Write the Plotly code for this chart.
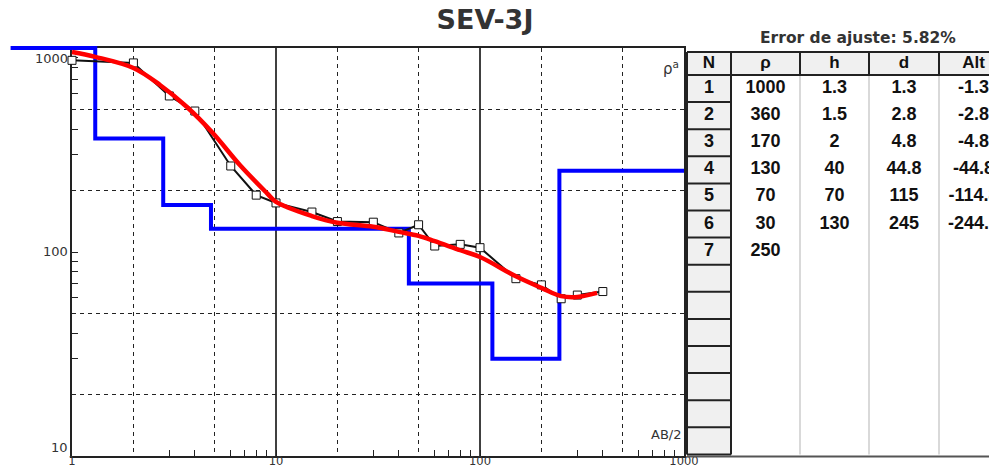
import plotly.graph_objects as go

# the page body keeps an 8px margin, so the figure is the window minus 16px
WIN_W, WIN_H, BODY = 997, 475, 8
W, H = WIN_W - 2 * BODY, WIN_H - 2 * BODY

# field data: AB/2 (m) vs apparent resistivity (ohm.m)
ab2_obs = [1, 2, 3, 4, 6, 8, 10, 15, 20, 30, 40, 50, 60, 80, 100, 150, 200, 250, 300, 400]
rho_obs = [870, 845, 582, 491, 264, 190, 174, 157, 141, 140, 124, 136, 107, 109, 105, 74, 69, 59, 61.5, 64]

# calculated curve of the fitted model
ab2_fit = [1, 1.3, 2, 2.7, 3.66, 4.9, 6.65, 9, 10, 15, 20, 30, 40, 50, 60, 80, 100, 150, 200, 250, 300, 375]
rho_fit = [956, 905, 798, 659, 514, 383, 267, 195, 176, 150, 139, 133, 125.5, 120, 113, 102, 94.5, 76, 66.7, 60.8, 60.2, 63]

# layered model (table)
layer_rho = [1000, 360, 170, 130, 70, 30, 250]
layer_h = [1.3, 1.5, 2, 40, 70, 130]
layer_d = [1.3, 2.8, 4.8, 44.8, 115, 245]
layer_alt = [-1.3, -2.8, -4.8, -44.8, -114.8, -244.8]
fit_error = 5.82
model_start, model_end = 0.5, 1000

headers = ["N", "ρ", "h", "d", "Alt"]
n_rows = 14

# tick values
decades_x = [1, 10, 100, 1000]
decades_y = [10, 100, 1000]
dashed = [2, 5, 20, 50, 200, 500]
small = [m * 10 ** e for e in range(0, 3) for m in (3, 4, 6, 7, 8, 9)]


# window pixels -> paper fractions
def xdom(a, b):
    return [(a - BODY) / W, (b - BODY) / W]


def ydom(top, bottom):
    return [(H - (bottom - BODY)) / H, (H - (top - BODY)) / H]


def px(x):
    return (x - BODY) / W


def py(y):
    return 1 - (y - BODY) / H


# pixel box of the log-log frame (window coords)
PX0, PX1, PY0, PY1 = 72, 684, 48, 456
XR, YR = [0, 3], [1, 3]
sx = (PX1 - PX0) / (XR[1] - XR[0])
sy = (PY1 - PY0) / (YR[1] - YR[0])

# a wider invisible subplot on the same scale, so the model line can leave the frame
OX0, OX1, OY0, OY1 = 8, 690, 40, 462
x2range = [XR[0] - (PX0 - OX0) / sx, XR[1] + (OX1 - PX1) / sx]
y2range = [YR[0] - (OY1 - PY1) / sy, YR[1] + (PY0 - OY0) / sy]

ink = "#222"
lblfont = dict(family="DejaVu Sans", size=13, color="#333")

fig = go.Figure()

fig.add_trace(go.Scatter(
    x=[model_start] + layer_d + [model_end], y=layer_rho + [layer_rho[-1]],
    xaxis="x2", yaxis="y2", mode="lines", line=dict(color="#0000ff", width=4, shape="hv"),
    hoverinfo="skip"))
fig.add_trace(go.Scatter(
    x=ab2_obs, y=rho_obs, xaxis="x2", yaxis="y2", mode="lines+markers",
    line=dict(color="#111", width=2),
    marker=dict(symbol="square", size=8, color="white", line=dict(color="#111", width=1)),
    hoverinfo="skip"))
fig.add_trace(go.Scatter(
    x=ab2_fit, y=rho_fit, xaxis="x2", yaxis="y2", mode="lines",
    line=dict(color="#ff0000", width=4.5, shape="spline"), hoverinfo="skip"))

# ---- table, drawn on its own subplot where one unit is one pixel
colwidth = [44, 69, 69, 70, 69]
head_h, row_h = 23, 27.1
TX0, TY0 = 687, 52
T = head_h + n_rows * row_h
xe = [sum(colwidth[:i]) for i in range(len(colwidth) + 1)]
ye = [0] + [head_h + k * row_h for k in range(n_rows + 1)]
xc = [(xe[i] + xe[i + 1]) / 2 for i in range(len(colwidth))]
yc = [(ye[k] + ye[k + 1]) / 2 for k in range(n_rows + 1)]
TABR = WIN_W - BODY - TX0  # visible width

# cell fills: header row and N column are grey
fill = [[1] * len(colwidth)] + [[1] + [0] * (len(colwidth) - 1) for _ in range(n_rows)]
fig.add_trace(go.Heatmap(
    x=xe, y=ye, z=fill, xaxis="x4", yaxis="y4", zmin=0, zmax=1,
    colorscale=[[0, "white"], [1, "#f0f0f0"]], showscale=False, hoverinfo="skip"))


def segs(pairs):
    xs, ys = [], []
    for (x0, y0, x1, y1) in pairs:
        xs += [x0, x1, None]
        ys += [y0, y1, None]
    return xs, ys


dark = [(0, 0, xe[-1], 0), (0, head_h, xe[-1], head_h)]
dark += [(x, 0, x, head_h) for x in xe]
dark += [(0, 0, 0, T), (xe[1], 0, xe[1], T)]
dark += [(0, y, xe[1], y) for y in ye[1:]]
light = [(x, head_h, x, T) for x in xe[2:-1]]
for segments, color, width in [(light, "#cdcdcd", 1.5), (dark, ink, 2),
                               ([(0, T + 2, xe[-1], T + 2)], "#555", 2)]:
    lx, ly = segs(segments)
    fig.add_trace(go.Scatter(x=lx, y=ly, xaxis="x4", yaxis="y4", mode="lines",
                             line=dict(color=color, width=width), hoverinfo="skip"))

columns = [[str(i + 1) for i in range(len(layer_rho))],
           [f"{v:g}" for v in layer_rho], [f"{v:g}" for v in layer_h],
           [f"{v:g}" for v in layer_d], [f"{v:g}" for v in layer_alt]]
tx, ty, tt = [], [], []
for j, col in enumerate(columns):
    for k, v in enumerate(col):
        tx.append(xc[j])
        ty.append(yc[k + 1])
        tt.append(v)
fig.add_trace(go.Scatter(
    x=tx, y=ty, text=tt, xaxis="x4", yaxis="y4", mode="text", textposition="middle center",
    textfont=dict(family="Liberation Sans, Arial, sans-serif", size=18, color="#111", weight="bold"),
    hoverinfo="skip"))
fig.add_trace(go.Scatter(
    x=xc, y=[yc[0]] * len(headers), text=headers, xaxis="x4", yaxis="y4", mode="text",
    textposition="middle center",
    textfont=dict(family="Liberation Sans, Arial, sans-serif", size=17, color="#111", weight="bold"),
    hoverinfo="skip"))

# solid grid at the inner decades
shapes = [dict(type="line", xref="x", yref="y domain", x0=v, x1=v, y0=0, y1=1,
               line=dict(color="#000", width=1.5), layer="below") for v in decades_x[1:-1]]
shapes += [dict(type="line", xref="x domain", yref="y", x0=0, x1=1, y0=2, y1=2,
                line=dict(color="#000", width=1.5), layer="below")]

annotations = [
    dict(text=f"{v:g}", xref="x domain", x=0, xanchor="right", xshift=-2,
         yref="y", y=[1, 2, 3][i], yanchor="middle", yshift=[9, 0, -11][i],
         showarrow=False, font=lblfont)
    for i, v in enumerate(decades_y)
]
annotations += [
    dict(text="AB/2", xref="x domain", x=1, xanchor="right", xshift=-1,
         yref="y domain", y=0, yanchor="bottom", yshift=12, showarrow=False, font=lblfont),
    dict(text="ρ<sup>a</sup>", xref="x domain", x=1, xanchor="right", xshift=-3,
         yref="y domain", y=1, yanchor="top", yshift=-8, showarrow=False,
         font=dict(family="DejaVu Sans", size=15, color="#333")),
    dict(text=f"<b>Error de ajuste: {fit_error:.2f}%</b>", xref="paper", yref="paper",
         x=px(858), y=py(38), xanchor="center", yanchor="middle", showarrow=False,
         font=dict(family="DejaVu Sans", size=15.5, color="#333")),
]

xt = sorted(decades_x + small)
yt = sorted(decades_y + [v * 10 for v in small[:12]])
fig.update_layout(
    width=W, height=H, margin=dict(l=0, r=0, t=0, b=0),
    paper_bgcolor="white", plot_bgcolor="rgba(0,0,0,0)",
    showlegend=False, hovermode=False, template="none",
    title=dict(text="<b>SEV-3J</b>", x=px(485), y=py(20), xanchor="center", yanchor="middle",
               font=dict(family="DejaVu Sans", size=27, color="#333")),
    xaxis=dict(type="log", range=XR, domain=xdom(PX0, PX1), anchor="y",
               tickvals=xt, ticktext=[f"{v:g}" if v in decades_x else "" for v in xt],
               ticks="inside", ticklen=6, tickwidth=1.3, tickcolor=ink,
               ticklabelstandoff=-7, tickfont=dict(family="DejaVu Sans", size=11.5, color="#333"),
               showgrid=False,
               minor=dict(tickvals=dashed, showgrid=True, gridcolor=ink, gridwidth=1.3,
                          griddash="4px,4px", ticks=""),
               showline=True, mirror=True, linecolor=ink, linewidth=2,
               zeroline=False, automargin=False, fixedrange=True),
    yaxis=dict(type="log", range=YR, domain=ydom(PY0, PY1), anchor="x",
               tickvals=yt, showticklabels=False,
               ticks="inside", ticklen=6, tickwidth=1.3, tickcolor=ink, showgrid=False,
               minor=dict(tickvals=[v * 10 for v in dashed[:4]], showgrid=True, gridcolor=ink,
                          gridwidth=1.3, griddash="4px,4px", ticks=""),
               showline=True, mirror=True, linecolor=ink, linewidth=2,
               zeroline=False, automargin=False, fixedrange=True),
    xaxis2=dict(type="log", range=x2range, domain=xdom(OX0, OX1), anchor="y2",
                visible=False, fixedrange=True),
    yaxis2=dict(type="log", range=y2range, domain=ydom(OY0, OY1), anchor="x2",
                visible=False, fixedrange=True),
    xaxis4=dict(range=[-2, TABR], domain=xdom(TX0 - 2, WIN_W - BODY), anchor="y4",
                visible=False, fixedrange=True),
    yaxis4=dict(range=[T + 4, -2], domain=ydom(TY0 - 2, TY0 + T + 4), anchor="x4",
                visible=False, fixedrange=True),
    shapes=shapes, annotations=annotations,
)

fig.write_html("out.html")
